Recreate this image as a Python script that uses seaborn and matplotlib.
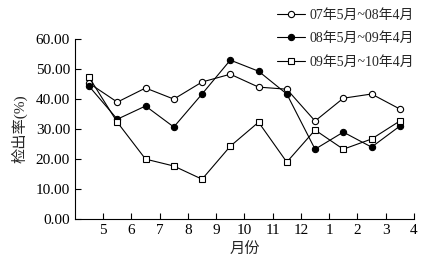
import pandas as pd
import matplotlib
matplotlib.use('Agg')
import matplotlib.pyplot as plt
import seaborn as sns

# 月份标签与数据
months = ['5', '6', '7', '8', '9', '10', '11', '12', '1', '2', '3', '4']
s07 = [45.3, 39.0, 43.7, 40.0, 45.7, 48.3, 44.0, 43.3, 32.7, 40.3, 41.7, 36.7]
s08 = [44.3, 33.3, 37.7, 30.7, 41.7, 53.0, 49.3, 41.7, 23.3, 29.0, 24.0, 31.0]
s09 = [47.3, 32.3, 20.0, 17.7, 13.3, 24.3, 32.3, 19.0, 29.7, 23.3, 26.7, 32.7]
labels = ['07年5月~08年4月', '08年5月~09年4月', '09年5月~10年4月']

sns.set_style('ticks')
plt.rcParams['font.family'] = ['Liberation Serif', 'Noto Sans CJK SC']
plt.rcParams['axes.unicode_minus'] = False

fig = plt.figure(figsize=(4.33, 2.59), dpi=100)
ax = fig.add_axes([0.173, 0.154, 0.783, 0.695])

xpos = [i + 0.5 for i in range(len(months))]
styles = [('o', 'white'), ('o', 'black'), ('s', 'white')]
for vals, lab, (mk, fc) in zip([s07, s08, s09], labels, styles):
    df = pd.DataFrame({'x': xpos, 'y': vals})
    sns.lineplot(x='x', y='y', data=df, ax=ax, color='black', linewidth=0.8,
                 marker=mk, markersize=4.5, markerfacecolor=fc,
                 markeredgecolor='black', markeredgewidth=0.8, label=lab)

ax.set_xlim(0, 12)
ax.set_ylim(0, 60)
ax.set_xticks(range(1, 13))
ax.set_xticklabels(months)
ax.set_yticks([0, 10, 20, 30, 40, 50, 60])
ax.set_yticklabels(['%.2f' % v for v in [0, 10, 20, 30, 40, 50, 60]])
ax.tick_params(direction='in', length=4, width=0.8, labelsize=11, colors='black')
for sp in ['top', 'right']:
    ax.spines[sp].set_visible(False)
for sp in ['left', 'bottom']:
    ax.spines[sp].set_linewidth(0.8)
    ax.spines[sp].set_color('black')

ax.set_xlabel('月份', fontsize=11, labelpad=4)
ax.set_ylabel('检出率(%)', fontsize=11, labelpad=6)

ax.legend(loc='upper left', bbox_to_anchor=(0.58, 1.20), frameon=False,
          fontsize=10, handlelength=2.0, handletextpad=0.3, labelspacing=0.75,
          borderaxespad=0)

fig.savefig('out.png', dpi=100)
